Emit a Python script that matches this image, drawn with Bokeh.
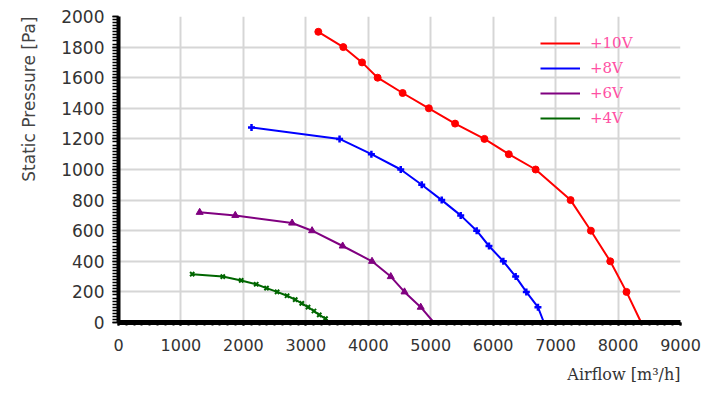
import math
from bokeh.plotting import figure
from bokeh.models import (SingleIntervalTicker, Legend, LegendItem, Title, Range1d)
from bokeh.embed import file_html
from bokeh.resources import INLINE

# ---- data ----
red_x = [3200, 3600, 3900, 4150, 4550, 4970, 5390, 5860, 6250, 6680, 7240, 7565, 7875, 8135, 8370]
red_y = [1900, 1800, 1700, 1600, 1500, 1400, 1300, 1200, 1100, 1000, 800, 600, 400, 200, 0]

blue_x = [2130, 3540, 4050, 4520, 4856, 5176, 5480, 5736, 5933, 6163, 6360, 6531, 6717, 6813]
blue_y = [1275, 1200, 1100, 1000, 900, 800, 700, 600, 500, 400, 300, 200, 100, 0]

purple_x = [1300, 1870, 2780, 3100, 3590, 4060, 4360, 4580, 4840, 5050]
purple_y = [720, 700, 650, 600, 500, 400, 300, 200, 100, 0]

green_x = [1180, 1670, 1965, 2205, 2370, 2540, 2700, 2830, 2935, 3035, 3130, 3215, 3315, 3375]
green_y = [316, 300, 275, 250, 225, 200, 175, 150, 125, 100, 75, 50, 25, 0]

series_labels = ["+10V", "+8V", "+6V", "+4V"]
x_title = "Airflow [m³/h]"
y_title = "Static Pressure [Pa]"

p = figure(width=710, height=411, output_backend="svg", toolbar_location=None,
           x_range=Range1d(0, 9000), y_range=Range1d(0, 2000),
           min_border_left=118, min_border_right=30, min_border_top=16, min_border_bottom=89)
p.outline_line_color = None
p.background_fill_color = "white"

# grid
p.xgrid.grid_line_color = "#d6d6d6"
p.ygrid.grid_line_color = "#d6d6d6"
p.xgrid.grid_line_width = 2
p.ygrid.grid_line_width = 2

# axes
p.xaxis.ticker = SingleIntervalTicker(interval=1000, num_minor_ticks=8)
p.yaxis.ticker = SingleIntervalTicker(interval=200, num_minor_ticks=10)

p.xaxis.axis_line_width = 5
p.xaxis.axis_line_color = "black"
p.xaxis.major_tick_out = 3
p.xaxis.major_tick_in = 0
p.xaxis.minor_tick_out = 3
p.xaxis.minor_tick_in = 0
p.xaxis.major_tick_line_width = 2
p.xaxis.minor_tick_line_width = 2
p.xaxis.major_label_standoff = 13
p.xaxis.major_label_text_font = "DejaVu Sans"
p.xaxis.major_label_text_font_size = "16px"
p.xaxis.major_label_text_color = "#333333"

p.yaxis.axis_line_width = 4
p.yaxis.axis_line_color = "black"
p.yaxis.major_tick_out = 6
p.yaxis.major_tick_in = 0
p.yaxis.minor_tick_out = 6
p.yaxis.minor_tick_in = 0
p.yaxis.major_tick_line_width = 1.5
p.yaxis.minor_tick_line_width = 1.5
p.yaxis.major_label_standoff = 8
p.yaxis.major_label_text_font = "DejaVu Sans"
p.yaxis.major_label_text_font_size = "17px"
p.yaxis.major_label_text_color = "#333333"

# series
def nz(xs, ys):
    pts = [(a, b) for a, b in zip(xs, ys) if b > 0]
    return [a for a, _ in pts], [b for _, b in pts]

r_red = p.line(red_x, red_y, line_color="#ff0000", line_width=2)
rx, ry = nz(red_x, red_y)
p.scatter(rx, ry, marker="circle", size=7, fill_color="#ff0000", line_color="#ff0000")

r_blue = p.line(blue_x, blue_y, line_color="#0000ff", line_width=2)
bx, by = nz(blue_x, blue_y)
p.scatter(bx, by, marker="cross", size=7, line_color="#0000ff", line_width=2.5)

r_purple = p.line(purple_x, purple_y, line_color="#800080", line_width=2)
px_, py_ = nz(purple_x, purple_y)
p.scatter(px_, py_, marker="triangle", size=7, fill_color="#800080", line_color="#800080")

r_green = p.line(green_x, green_y, line_color="#006600", line_width=2)
gx, gy = nz(green_x, green_y)
p.scatter(gx, gy, marker="x", size=6, line_color="#006600", line_width=2)

legend = Legend(items=[LegendItem(label=series_labels[0], renderers=[r_red]),
                       LegendItem(label=series_labels[1], renderers=[r_blue]),
                       LegendItem(label=series_labels[2], renderers=[r_purple]),
                       LegendItem(label=series_labels[3], renderers=[r_green])],
                location=(422, 194))
legend.background_fill_alpha = 0
legend.border_line_color = None
legend.padding = 0
legend.margin = 0
legend.spacing = 5
legend.glyph_width = 40
legend.glyph_height = 20
legend.label_height = 20
legend.label_standoff = 10
legend.label_text_font = "DejaVu Serif"
legend.label_text_font_size = "15px"
legend.label_text_color = "#ff4fa3"
p.add_layout(legend, "center")

p.add_layout(Title(text=y_title, align="right", standoff=35, vertical_align="top",
                   text_font="DejaVu Sans", text_font_size="17px",
                   text_font_style="normal", text_color="#444444"), "left")
p.add_layout(Title(text=x_title, align="right", standoff=19, text_font="DejaVu Serif",
                   text_font_size="16px", text_font_style="normal", text_color="#333333"), "below")

open("out.html", "w").write(file_html(p, INLINE))
